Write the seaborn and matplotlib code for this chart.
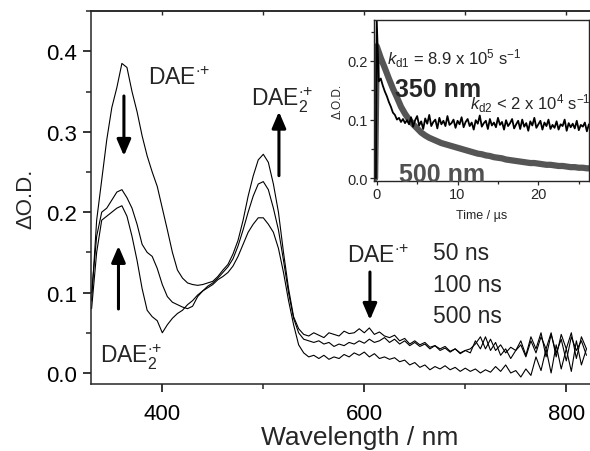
import numpy as np
import pandas as pd
import matplotlib
matplotlib.use("Agg")
import matplotlib.pyplot as plt
import seaborn as sns
from matplotlib.ticker import MultipleLocator, FixedLocator, NullFormatter

# ---------------- data ----------------
wl_start, wl_step = 330, 5          # nm grid of the spectra
od_50ns = [
    0.09, 0.19, 0.24, 0.29, 0.33, 0.355, 0.385, 0.38, 0.35, 0.325,
    0.295, 0.27, 0.25, 0.232, 0.205, 0.178, 0.15, 0.128, 0.118, 0.112,
    0.11, 0.109, 0.11, 0.112, 0.114, 0.12, 0.128, 0.135, 0.148, 0.165,
    0.19, 0.22, 0.245, 0.265, 0.272, 0.262, 0.235, 0.2, 0.15, 0.105,
    0.07, 0.055, 0.048, 0.046, 0.05, 0.047, 0.044, 0.05, 0.048, 0.046,
    0.052, 0.049, 0.05, 0.055, 0.05, 0.056, 0.048, 0.051, 0.046, 0.044,
    0.047, 0.04, 0.043, 0.036, 0.04, 0.035, 0.038, 0.032, 0.034, 0.03,
    0.033, 0.027, 0.03, 0.025, 0.028, 0.03, 0.036, 0.045, 0.03, 0.042,
    0.028, 0.035, 0.025, 0.032, 0.028, 0.04, 0.022, 0.045, 0.03, 0.05,
    0.02, 0.048, 0.025, 0.042, 0.015, 0.045, 0.028, 0.04, 0.022]
od_100ns = [
    0.10, 0.17, 0.20, 0.205, 0.215, 0.225, 0.228, 0.218, 0.205, 0.185,
    0.16, 0.15, 0.145, 0.13, 0.11, 0.095, 0.088, 0.085, 0.082, 0.08,
    0.083, 0.095, 0.102, 0.108, 0.112, 0.118, 0.125, 0.132, 0.142, 0.158,
    0.178, 0.2, 0.22, 0.235, 0.238, 0.228, 0.205, 0.178, 0.14, 0.1,
    0.068, 0.05, 0.042, 0.04, 0.038, 0.04, 0.036, 0.038, 0.033, 0.036,
    0.034, 0.038, 0.036, 0.04, 0.037, 0.042, 0.038, 0.04, 0.044, 0.038,
    0.042, 0.036, 0.04, 0.034, 0.038, 0.033, 0.036, 0.03, 0.034, 0.028,
    0.031, 0.026, 0.03, 0.024, 0.028, 0.025, 0.04, 0.03, 0.045, 0.028,
    0.038, 0.022, 0.03, 0.018, 0.028, 0.035, 0.02, 0.04, 0.025, 0.045,
    0.03, 0.05, 0.02, 0.048, 0.03, 0.05, 0.018, 0.045, 0.03]
od_500ns = [
    0.08, 0.15, 0.19, 0.195, 0.2, 0.205, 0.208, 0.195, 0.17, 0.14,
    0.105, 0.078, 0.07, 0.065, 0.05, 0.06, 0.068, 0.074, 0.078, 0.085,
    0.09, 0.097, 0.102, 0.106, 0.11, 0.116, 0.12, 0.125, 0.133, 0.145,
    0.16, 0.175, 0.185, 0.193, 0.193, 0.185, 0.175, 0.155, 0.125, 0.09,
    0.06, 0.035, 0.025, 0.02, 0.022, 0.018, 0.022, 0.017, 0.02, 0.018,
    0.023, 0.02, 0.025, 0.022, 0.026, 0.02, 0.024, 0.018, 0.02, 0.017,
    0.019, 0.014, 0.016, 0.01, 0.013, 0.007, 0.01, 0.004, 0.008, 0.005,
    0.009, 0.004, 0.007, 0.002, 0.006, 0.002, 0.005, 0.0, 0.004, 0.001,
    0.008, 0.002, 0.01, 0.0, 0.003, -0.005, 0.005, -0.003, 0.02, 0.003,
    0.03, 0.0, 0.035, 0.005, 0.03, 0.002, 0.04, 0.01, 0.03]
delay_labels = ["50 ns", "100 ns", "500 ns"]

# inset kinetics
trace_500nm_t0, trace_500nm_step = -0.2, 0.5
trace_500nm = [
    0.0,
    0.225, 0.205, 0.188, 0.17, 0.153, 0.138, 0.122, 0.11, 0.1, 0.092,
    0.085, 0.078, 0.073, 0.069, 0.066, 0.063, 0.06, 0.058, 0.056, 0.054,
    0.052, 0.05, 0.048, 0.046, 0.044, 0.042, 0.041, 0.039, 0.038, 0.036,
    0.035, 0.034, 0.032, 0.031, 0.03, 0.029, 0.028, 0.027, 0.026, 0.026,
    0.025, 0.024, 0.023, 0.023, 0.022, 0.021, 0.021, 0.02, 0.019, 0.019,
    0.018, 0.018, 0.017, 0.017]
trace_350nm_t0, trace_350nm_step = -0.1, 0.25
trace_350nm = [
    0.0,
    0.27, 0.165, 0.17, 0.158, 0.148, 0.14, 0.13, 0.122, 0.112, 0.108,
    0.1, 0.103, 0.096, 0.101, 0.094, 0.099, 0.092,
    0.104, 0.088, 0.099, 0.106, 0.09, 0.097, 0.084, 0.102, 0.093, 0.108,
    0.089, 0.096, 0.1, 0.085, 0.103, 0.092, 0.098, 0.089, 0.106, 0.091,
    0.094, 0.1, 0.086, 0.098, 0.092, 0.104, 0.087, 0.096, 0.101, 0.089,
    0.095, 0.083, 0.099, 0.093, 0.107, 0.088, 0.094, 0.098, 0.084, 0.101,
    0.09, 0.095, 0.087, 0.103, 0.091, 0.096, 0.083, 0.099, 0.089, 0.094,
    0.101, 0.085, 0.092, 0.098, 0.084, 0.1, 0.088, 0.094, 0.081, 0.097,
    0.09, 0.103, 0.086, 0.092, 0.098, 0.083, 0.095, 0.089, 0.1, 0.084,
    0.091, 0.086, 0.097, 0.083, 0.092, 0.089, 0.1, 0.081, 0.094, 0.087,
    0.093, 0.085, 0.098, 0.082, 0.091, 0.088, 0.095, 0.08, 0.092, 0.086]

# ---------------- build tables ----------------
wl = wl_start + wl_step * np.arange(len(od_50ns))
spec = pd.concat([
    pd.DataFrame({"wl": wl, "od": vals, "delay": lab})
    for vals, lab in zip([od_50ns, od_100ns, od_500ns], delay_labels)
])
t350 = np.concatenate([[trace_350nm_t0], trace_350nm_step * np.arange(len(trace_350nm) - 1)])
t500 = np.concatenate([[trace_500nm_t0], trace_500nm_step * np.arange(len(trace_500nm) - 1)])
kin500 = pd.DataFrame({"t": t500, "od": trace_500nm})
kin350 = pd.DataFrame({"t": t350, "od": trace_350nm})

# ---------------- style ----------------
sns.set_style("ticks")
plt.rcParams["font.family"] = ["Liberation Sans", "DejaVu Sans"]
plt.rcParams["mathtext.fontset"] = "custom"
plt.rcParams["mathtext.rm"] = "Liberation Sans"
plt.rcParams["mathtext.it"] = "Liberation Sans:italic"
plt.rcParams["mathtext.bf"] = "Liberation Sans:bold"

W, H = 590, 452
fig = plt.figure(figsize=(W / 100, H / 100), dpi=100)

# main axes (pixel geometry from the reference)
L, R, T, B = 91, 590, 12, 385
ax = fig.add_axes([L / W, 1 - B / H, (R - L) / W, (B - T) / H])
for lab in delay_labels:
    sns.lineplot(data=spec[spec.delay == lab], x="wl", y="od", ax=ax,
                 color="black", lw=0.8, estimator=None, sort=False)
ax.set_xlim(329.4, 823.5)
ax.set_ylim(-0.0137, 0.4502)
for s in ["left", "bottom", "top"]:
    ax.spines[s].set_linewidth(1.1)
ax.spines["right"].set_visible(False)
ax.xaxis.set_major_locator(FixedLocator([400, 600, 800]))
ax.xaxis.set_minor_locator(FixedLocator([500, 700]))
ax.yaxis.set_major_locator(MultipleLocator(0.1))
ax.yaxis.set_minor_locator(MultipleLocator(0.05))
ax.yaxis.set_major_formatter(matplotlib.ticker.FormatStrFormatter("%.1f"))
ax.tick_params(axis="both", which="major", direction="out", length=6, width=1.1,
               labelsize=16, color="black", labelcolor="black")
ax.tick_params(axis="both", which="minor", direction="out", length=3.5, width=1.1)
ax.tick_params(axis="x", which="major", pad=8)
ax.tick_params(axis="y", which="major", pad=4)
ax.set_xlabel("Wavelength / nm", fontsize=19)
ax.set_ylabel("ΔO.D.", fontsize=16)
ax.xaxis.set_label_coords((360 - L) / (R - L), (B - 426) / (B - T))
ax.yaxis.set_label_coords((36 - L) / (R - L), 0.5)

top = ax.secondary_xaxis("top")
top.xaxis.set_major_locator(FixedLocator([400, 600, 800]))
top.xaxis.set_minor_locator(FixedLocator([500, 700]))
top.xaxis.set_major_formatter(NullFormatter())
top.tick_params(which="both", direction="in", length=3, width=1)
top.spines["top"].set_linewidth(1.1)

# annotations
fs = 16.5
cat = r"DAE$^{{\cdot}{+}}$"
cat2 = r"DAE$_2^{{\cdot}{+}}$"
ax.text(386, 0.3595, cat, fontsize=fs, va="baseline")
ax.text(487.5, 0.333, cat2, fontsize=fs, va="baseline")
ax.text(338.4, 0.0133, cat2, fontsize=fs, va="baseline")
ax.text(583, 0.1377, cat, fontsize=fs, va="baseline")
for lab, yb in zip(delay_labels, [0.1418, 0.1024, 0.063]):
    ax.text(668, yb, lab, fontsize=fs, va="baseline")

arrow = dict(arrowstyle="-|>,head_length=0.7,head_width=0.3", lw=2.2, color="black",
             shrinkA=0, shrinkB=0, mutation_scale=14)
ax.annotate("", xy=(362, 0.270), xytext=(362, 0.3445), arrowprops=arrow)
ax.annotate("", xy=(356.6, 0.158), xytext=(356.6, 0.0796), arrowprops=arrow)
ax.annotate("", xy=(515.5, 0.325), xytext=(515.5, 0.2454), arrowprops=arrow)
ax.annotate("", xy=(605.6, 0.066), xytext=(605.6, 0.1256), arrowprops=arrow)

# inset
iL, iR, iT, iB = 374.3, 589.3, 21, 182
axi = fig.add_axes([iL / W, 1 - iB / H, (iR - iL) / W, (iB - iT) / H])
axi.set_facecolor("white")
sns.lineplot(data=kin500, x="t", y="od", ax=axi, color="#555555", lw=4.5,
             estimator=None, sort=False)
sns.lineplot(data=kin350, x="t", y="od", ax=axi, color="black", lw=1.3,
             estimator=None, sort=False)
axi.set_xlim(-0.3, 26.3)
axi.set_ylim(-0.0046, 0.2697)
for s in axi.spines.values():
    s.set_linewidth(1.0)
    s.set_visible(True)
axi.xaxis.set_major_locator(MultipleLocator(10))
axi.xaxis.set_minor_locator(MultipleLocator(5))
axi.yaxis.set_major_locator(MultipleLocator(0.1))
axi.yaxis.set_minor_locator(MultipleLocator(0.05))
axi.yaxis.set_major_formatter(matplotlib.ticker.FormatStrFormatter("%.1f"))
axi.tick_params(which="major", direction="out", length=3, width=0.9, labelsize=10.5, pad=1.5)
axi.tick_params(which="minor", direction="out", length=2, width=0.9)
axi.set_xlabel("Time / µs", fontsize=9)
axi.set_ylabel("Δ.O.D.", fontsize=8.5)
axi.xaxis.set_label_coords(0.5, (iB - 210) / (iB - iT))
axi.yaxis.set_label_coords((344 - iL) / (iR - iL), 0.5)

axi.text(1.24, 0.1947, r"$k_{\mathrm{d1}}$ = 8.9 x 10$^{5}$ s$^{-1}$", fontsize=12, va="baseline")
axi.text(2.26, 0.1397, "350 nm", fontsize=18, fontweight="bold", va="baseline")
axi.text(11.55, 0.118, r"$k_{\mathrm{d2}}$ < 2 x 10$^{4}$ s$^{-1}$", fontsize=12, va="baseline")
axi.text(2.8, -0.004, "500 nm", fontsize=18, fontweight="bold", color="#505050", va="baseline")

fig.savefig("out.png", dpi=100)
